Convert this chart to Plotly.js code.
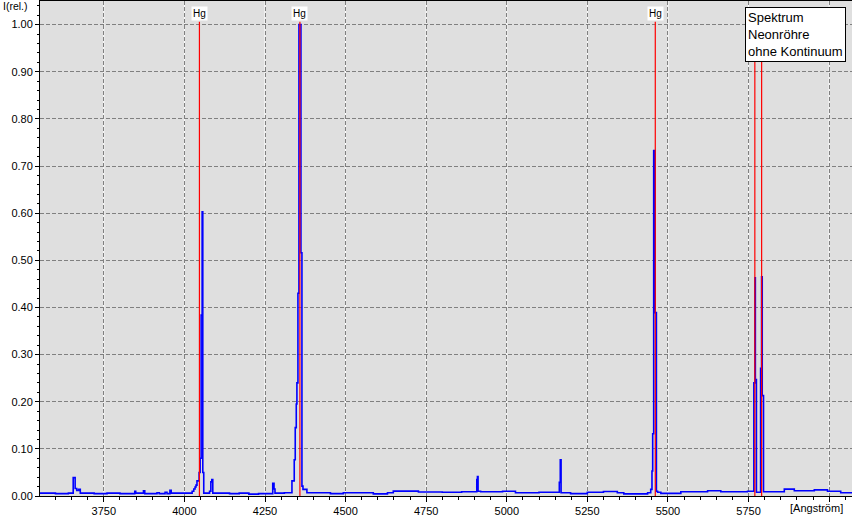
<!DOCTYPE html>
<html>
<head>
<meta charset="utf-8">
<script src="https://cdn.plot.ly/plotly-3.0.1.min.js"></script>
<style>html,body{margin:0;padding:0;background:#fff;}#chart{width:853px;height:517px;}</style>
</head>
<body>
<div id="chart"></div>
<script>
// Wavelength (Angström) of spectrum samples
const wavelength = [
  3552, 3600, 3640, 3655, 3661, 3666, 3672, 3677,
  3720, 3760, 3800, 3846, 3849, 3873, 3877, 3915, 3922, 3940, 3946, 3955, 3959, 3990,
  4024, 4029, 4033, 4036, 4039, 4045.6, 4048.8, 4051.9, 4055, 4057, 4060,
  4078, 4082, 4085, 4088,
  4140, 4170, 4200, 4230, 4274, 4278, 4281, 4310,
  4333.6, 4340.7, 4343.8, 4347, 4349, 4352.2, 4355.3, 4361.5, 4364.6, 4367.8, 4380,
  4453, 4493, 4586, 4630, 4648, 4726, 4800, 4860, 4907, 4909, 4911, 4919, 4987, 5027,
  5100, 5163, 5166, 5168.5, 5198, 5250, 5300, 5343, 5363, 5437,
  5446.6, 5450.5, 5452.7, 5455.8, 5459.9, 5464.2, 5468, 5478, 5540, 5623, 5664, 5747,
  5766.5, 5770, 5771.2, 5774.5, 5787.5, 5790.5, 5792.5, 5796.5,
  5861, 5892, 5954, 5995, 6036, 6071
];
// Relative intensity
const intensity = [
  0.006, 0.005, 0.006, 0.039, 0.016, 0.012, 0.014, 0.006,
  0.005, 0.006, 0.005, 0.010, 0.006, 0.011, 0.005, 0.007, 0.005, 0.008, 0.005, 0.012, 0.006, 0.006,
  0.010, 0.015, 0.019, 0.023, 0.032, 0.050, 0.080, 0.384, 0.603, 0.050, 0.006,
  0.010, 0.030, 0.035, 0.006,
  0.005, 0.006, 0.004, 0.005, 0.027, 0.015, 0.006, 0.007,
  0.032, 0.077, 0.145, 0.195, 0.240, 0.430, 1.000, 0.516, 0.021, 0.014, 0.007,
  0.005, 0.007, 0.0045, 0.007, 0.0104, 0.0085, 0.008, 0.009, 0.035, 0.041, 0.010, 0.009, 0.010, 0.007,
  0.008, 0.029, 0.077, 0.007, 0.005, 0.008, 0.0095, 0.007, 0.0045, 0.007,
  0.014, 0.053, 0.132, 0.733, 0.389, 0.010, 0.008, 0.0055, 0.009, 0.011, 0.009, 0.010,
  0.240, 0.463, 0.247, 0.008, 0.271, 0.465, 0.213, 0.009,
  0.0146, 0.011, 0.013, 0.010, 0.007, 0.007
];
// Reference mercury lines
const hgLines = [4046.56, 4358.33, 5460.74, 5769.6, 5790.66];
const hgLabeled = [4046.56, 4358.33, 5460.74];
const xTicks = [3750, 4000, 4250, 4500, 4750, 5000, 5250, 5500, 5750, 6000];
const xTickText = ['3750', '4000', '4250', '4500', '4750', '5000', '5250', '5500', '5750', ''];
const yTicks = [0, 0.1, 0.2, 0.3, 0.4, 0.5, 0.6, 0.7, 0.8, 0.9, 1.0];
const legendLines = ['Spektrum', 'Neonröhre', 'ohne Kontinuum'];

const FONT = 'Arial, "Liberation Sans", sans-serif';

const shapes = [];
xTicks.forEach(v => shapes.push({
  type: 'line', xref: 'x', yref: 'paper', x0: v, x1: v, y0: 0, y1: 1,
  line: {color: '#ffffff', width: 1}, layer: 'below'
}));
hgLines.forEach(v => shapes.push({
  type: 'line', xref: 'x', yref: 'y', x0: v, x1: v, y0: 0, y1: 1.006,
  line: {color: '#ff0000', width: 1.2}, layer: 'above'
}));

const annotations = [];
hgLabeled.forEach(v => annotations.push({
  x: v, xref: 'x', y: 1.006, yref: 'y', yanchor: 'bottom', xanchor: 'center',
  text: 'Hg', showarrow: false, bgcolor: '#ffffff', borderpad: 1, yshift: 1,
  font: {family: FONT, size: 10, color: '#000000'}
}));
annotations.push({
  x: 0.8686, xref: 'paper', y: 0.9885, yref: 'paper', xanchor: 'left', yanchor: 'top',
  text: legendLines.join('<br>'), align: 'left', showarrow: false,
  bgcolor: '#ffffff', bordercolor: '#000000', borderwidth: 1, borderpad: 2,
  font: {family: FONT, size: 13, color: '#000000'}
});
annotations.push({
  x: -0.048, xref: 'paper', y: 0.99, yref: 'paper', xanchor: 'left', yanchor: 'middle',
  text: 'I(rel.)', showarrow: false, font: {family: FONT, size: 10.5, color: '#000000'}
});
annotations.push({
  x: 0.9557, xref: 'paper', y: -0.024, yref: 'paper', xanchor: 'center', yanchor: 'middle',
  text: '[Angström]', showarrow: false, font: {family: FONT, size: 11, color: '#000000'}
});

const trace = {
  x: wavelength, y: intensity, type: 'scatter', mode: 'lines',
  line: {color: '#0000ff', width: 1.6, shape: 'hv'}, hoverinfo: 'x+y'
};

const layout = {
  width: 853, height: 517,
  margin: {l: 40, r: 1, t: 1, b: 21, pad: 0},
  paper_bgcolor: '#ffffff', plot_bgcolor: '#dfdfdf',
  showlegend: false,
  font: {family: FONT, size: 11, color: '#000000'},
  xaxis: {
    range: [3552, 6071], tickvals: xTicks, ticktext: xTickText,
    ticks: 'outside', ticklen: 5, tickcolor: '#000000', tickwidth: 1,
    showline: true, linecolor: '#000000', linewidth: 1, mirror: true,
    showgrid: true, gridcolor: '#808080', gridwidth: 1, griddash: '4px,2px',
    zeroline: false, tickfont: {family: FONT, size: 11, color: '#000000'},
    minor: {dtick: 50, tick0: 3750, ticks: 'outside', ticklen: 3, tickcolor: '#000000', showgrid: false}
  },
  yaxis: {
    range: [0, 1.05], tickvals: yTicks, tickformat: '.2f',
    ticks: 'outside', ticklen: 4, tickcolor: '#000000', tickwidth: 1,
    showline: true, linecolor: '#000000', linewidth: 1,
    showgrid: true, gridcolor: '#808080', gridwidth: 1, griddash: '4px,2px',
    zeroline: false, tickfont: {family: FONT, size: 11, color: '#000000'},
    minor: {dtick: 0.02, tick0: 0, ticks: 'outside', ticklen: 2, tickcolor: '#000000', showgrid: false}
  },
  shapes: shapes,
  annotations: annotations
};

Plotly.newPlot('chart', [trace], layout, {staticPlot: true, displayModeBar: false});
</script>
</body>
</html>
